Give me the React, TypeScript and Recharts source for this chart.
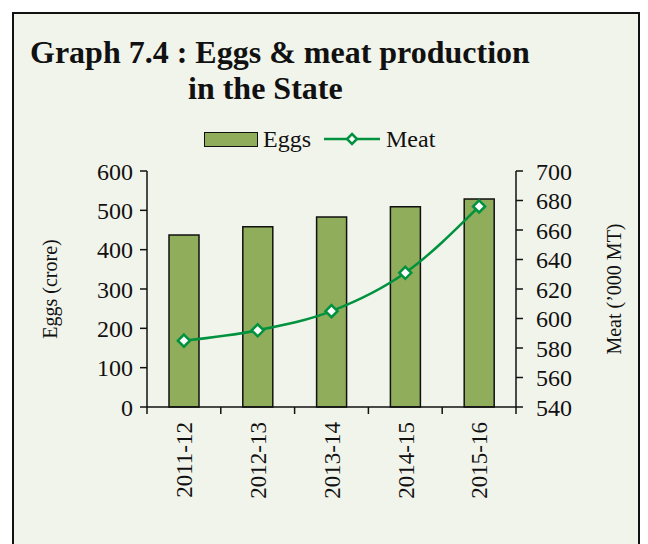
import { Bar, ComposedChart, Line, XAxis, YAxis } from "recharts";

const YEARS = ["2011-12", "2012-13", "2013-14", "2014-15", "2015-16"];
const EGGS = [437, 458, 483, 509, 529];
const MEAT = [585, 592, 605, 631, 676];
const EGG_TICKS = [0, 100, 200, 300, 400, 500, 600];
const MEAT_TICKS = [540, 560, 580, 600, 620, 640, 660, 680, 700];

const FONT = '"Liberation Serif", "Times New Roman", serif';
const BG = "#f1f4eb";
const BAR_FILL = "#8fad5a";
const GREEN = "#00923f";
const INK = "#111";
const X_TICK_SIZE = 6;
const X_TICK_MARGIN = 9;

const data = YEARS.map((year, i) => ({ year, eggs: EGGS[i], meat: MEAT[i] }));

function Diamond({ cx, cy, size = 6 }: { cx?: number; cy?: number; size?: number }) {
  if (cx == null || cy == null) return null;
  const s = size;
  return (
    <path
      d={`M${cx},${cy - s}L${cx + s},${cy}L${cx},${cy + s}L${cx - s},${cy}Z`}
      fill="#fff"
      stroke={GREEN}
      strokeWidth={2.5}
    />
  );
}

// rotated year label, plus tick marks on the category boundaries
function YearTick(props: {
  x?: number;
  y?: number;
  width?: number;
  index?: number;
  visibleTicksCount?: number;
  payload?: { value: string };
}) {
  const { x = 0, y = 0, width = 0, index = 0, visibleTicksCount = 1, payload } = props;
  const half = width / visibleTicksCount / 2;
  const axisY = y - X_TICK_SIZE - X_TICK_MARGIN;
  const last = index === visibleTicksCount - 1;
  return (
    <g>
      <line x1={x - half} y1={axisY} x2={x - half} y2={axisY + 7} stroke={INK} strokeWidth={1.5} />
      {last && (
        <line x1={x + half} y1={axisY} x2={x + half} y2={axisY + 7} stroke={INK} strokeWidth={1.5} />
      )}
      <text
        x={x}
        y={y}
        dy="0.36em"
        textAnchor="end"
        transform={`rotate(-90, ${x}, ${y})`}
        fill={INK}
        fontSize={23}
        fontFamily={FONT}
      >
        {payload?.value}
      </text>
    </g>
  );
}

export default function App() {
  return (
    <div
      style={{
        position: "absolute",
        left: 0,
        top: 0,
        width: 648,
        height: 544,
        overflow: "hidden",
        background: "#fff",
        fontFamily: FONT,
        color: INK,
      }}
    >
      <div
        style={{
          position: "absolute",
          left: 12,
          top: 12,
          width: 624,
          height: 560,
          border: `2px solid ${INK}`,
          background: BG,
        }}
      />
      <div
        style={{
          position: "absolute",
          left: 30,
          top: 34,
          fontSize: 32,
          lineHeight: "37px",
          fontWeight: "bold",
          whiteSpace: "nowrap",
        }}
      >
        Graph 7.4 : Eggs &amp; meat production
      </div>
      <div
        style={{
          position: "absolute",
          left: 188,
          top: 70,
          fontSize: 32,
          lineHeight: "37px",
          fontWeight: "bold",
          whiteSpace: "nowrap",
        }}
      >
        in the State
      </div>

      {/* legend */}
      <div
        style={{
          position: "absolute",
          left: 204,
          top: 124,
          height: 30,
          display: "flex",
          alignItems: "center",
          fontSize: 24,
          whiteSpace: "nowrap",
        }}
      >
        <span
          style={{
            display: "inline-block",
            width: 52,
            height: 13,
            background: BAR_FILL,
            border: `1.5px solid ${INK}`,
          }}
        />
        <span style={{ marginLeft: 5 }}>Eggs</span>
        <svg width={56} height={20} style={{ marginLeft: 13 }}>
          <line x1={0} y1={10} x2={56} y2={10} stroke={GREEN} strokeWidth={2.5} />
          <Diamond cx={28} cy={10} size={5} />
        </svg>
        <span style={{ marginLeft: 6 }}>Meat</span>
      </div>

      <div style={{ position: "absolute", left: 0, top: 0 }}>
        <ComposedChart
          width={648}
          height={544}
          data={data}
          margin={{ top: 171, right: 20, bottom: 37, left: 40 }}
        >
          <XAxis
            xAxisId="cat"
            dataKey="year"
            height={100}
            tickLine={false}
            tickSize={X_TICK_SIZE}
            tickMargin={X_TICK_MARGIN}
            axisLine={{ stroke: INK, strokeWidth: 1.5 }}
            tick={<YearTick />}
            interval={0}
          />
          <YAxis
            yAxisId="eggs"
            domain={[0, 600]}
            ticks={EGG_TICKS}
            interval={0}
            width={107}
            tickSize={7}
            tickMargin={7}
            axisLine={{ stroke: INK, strokeWidth: 1.5 }}
            tickLine={{ stroke: INK, strokeWidth: 1.5 }}
            tick={{ fill: INK, fontSize: 24, fontFamily: FONT }}
            label={{
              value: "Eggs (crore)",
              angle: -90,
              position: "insideLeft",
              offset: 10,
              style: { textAnchor: "middle", fill: INK, fontSize: 20, fontFamily: FONT },
            }}
          />
          <YAxis
            yAxisId="meat"
            orientation="right"
            domain={[540, 700]}
            ticks={MEAT_TICKS}
            interval={0}
            width={112}
            tickSize={7}
            tickMargin={13}
            axisLine={{ stroke: INK, strokeWidth: 1.5 }}
            tickLine={{ stroke: INK, strokeWidth: 1.5 }}
            tick={{ fill: INK, fontSize: 24, fontFamily: FONT }}
            label={{
              value: "Meat (\u2019000 MT)",
              angle: -90,
              position: "insideRight",
              offset: 14,
              style: { textAnchor: "middle", fill: INK, fontSize: 20, fontFamily: FONT },
            }}
          />
          <Bar
            xAxisId="cat"
            yAxisId="eggs"
            dataKey="eggs"
            barSize={30}
            fill={BAR_FILL}
            stroke={INK}
            strokeWidth={1.5}
            isAnimationActive={false}
          />
          <Line
            xAxisId="cat"
            yAxisId="meat"
            dataKey="meat"
            type="monotone"
            stroke={GREEN}
            strokeWidth={2.5}
            dot={<Diamond size={6} />}
            activeDot={false}
            isAnimationActive={false}
          />
        </ComposedChart>
      </div>
    </div>
  );
}
